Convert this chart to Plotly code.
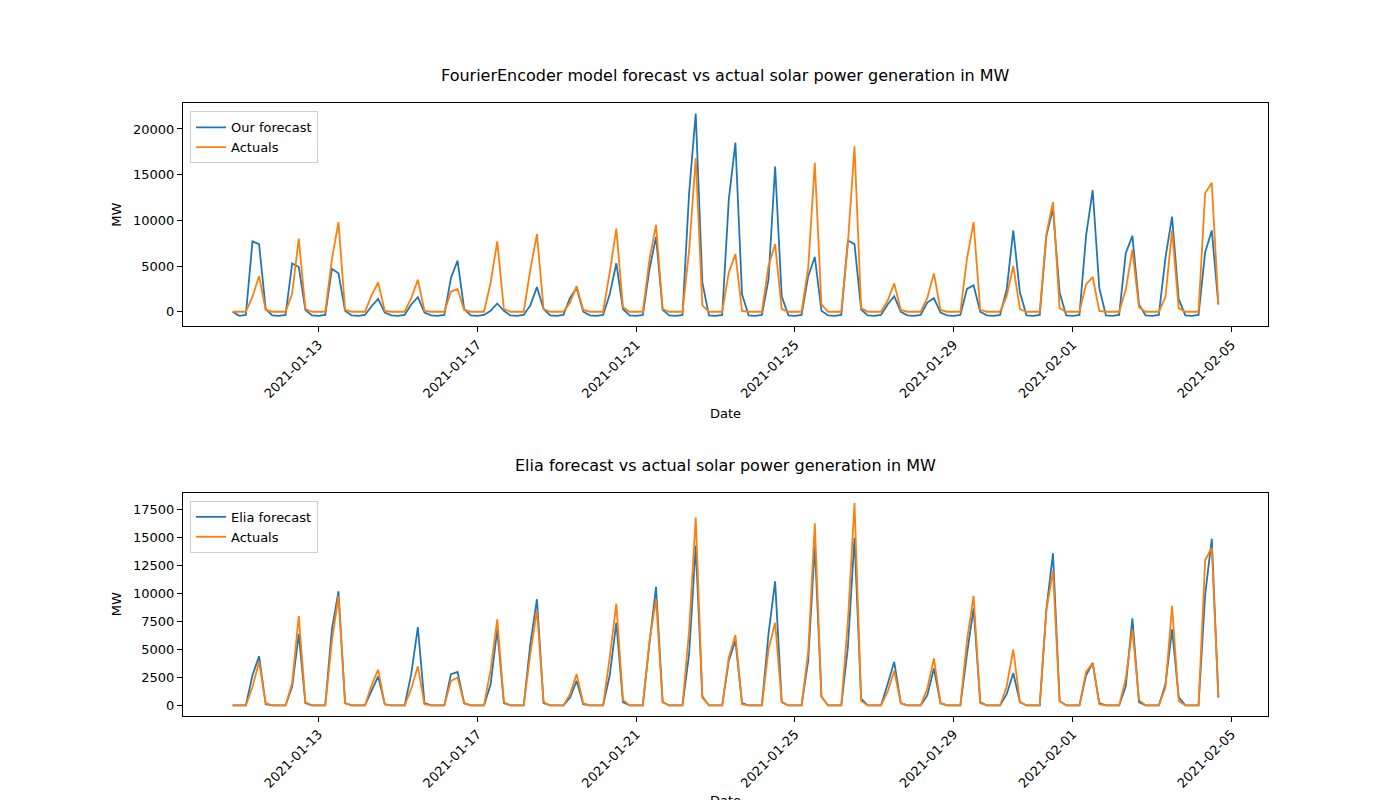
import pandas as pd
import plotly.graph_objects as go

days = pd.date_range("2021-01-11", "2021-02-04", freq="D")
start_time = pd.Timestamp("2021-01-10 20:00")
start_vals = {"ours": 0, "act": 0, "elia": 0}

# values per day at 00, 04, 08, 12, 16, 20 h (Jan 11 .. Feb 4)
ours_00 = [-450]*25
ours_04 = [-350]*25
ours_08 = [7700, 5300, 4700, 600, 800, 3700, 100, 700, 1500, 1900, 4600, 13000, 12300, 3500, 3900, 7800, 800, 1000, 2500, 2400, 8300, 8300, 6400, 5900, 6500]
ours_12 = [7400, 4900, 4200, 1400, 1600, 5600, 900, 2700, 2600, 5300, 8200, 21700, 18500, 15900, 6000, 7400, 1700, 1500, 2900, 8900, 11300, 13300, 8300, 10400, 8900]
ours_16 = [300, 200, 100, -100, -100, 300, 100, 300, 0, 300, 200, 3200, 1900, 1700, 100, 250, 0, -100, 0, 2100, 2100, 2600, 800, 1400, 800]
ours_20 = [-400]*25

act_08 = [1650, 2000, 5700, 1800, 1500, 2200, 3200, 4600, 1000, 4300, 5700, 6700, 4300, 5000, 4800, 7500, 1200, 1500, 5800, 1700, 8500, 3000, 2400, 1600, 13000]
act_12 = [3900, 8000, 9800, 3200, 3500, 2500, 7700, 8500, 2800, 9100, 9500, 16800, 6300, 7400, 16300, 18100, 3100, 4200, 9800, 5000, 12000, 3800, 6800, 8900, 14100]
act_16 = [200, 300, 200, 100, 100, 200, 300, 300, 200, 500, 300, 700, 100, 300, 800, 400, 200, 200, 200, 300, 400, 100, 500, 400, 800]

elia_08 = [2700, 1700, 6800, 1300, 2800, 2800, 1900, 5500, 700, 2700, 5500, 4600, 4000, 6400, 4000, 5200, 1900, 900, 4600, 1000, 8600, 2700, 1700, 1900, 9900]
elia_12 = [4400, 6400, 10200, 2600, 7000, 3000, 6800, 9500, 2200, 7400, 10600, 14300, 5800, 11100, 14300, 15000, 3900, 3300, 8700, 2900, 13600, 3800, 7800, 6800, 14900]
elia_16 = [100, 200, 200, 100, 200, 200, 200, 200, 100, 300, 300, 800, 200, 300, 800, 600, 200, 200, 300, 300, 400, 200, 300, 740, 700]

tick_dates = ["2021-01-13", "2021-01-17", "2021-01-21", "2021-01-25", "2021-01-29", "2021-02-01", "2021-02-05"]


def build(v00, v04, v08, v12, v16, v20, first):
    t, y = [start_time], [first]
    for i, d in enumerate(days):
        slots = [v00[i], v04[i], v08[i], v12[i], v16[i], v20[i]]
        for h, v in zip([0, 4, 8, 12, 16, 20], slots):
            ts = d + pd.Timedelta(hours=h)
            if ts > pd.Timestamp("2021-02-04 16:00"):
                continue
            t.append(ts)
            y.append(v)
    return t, y


zeros = [0]*25
t, ours = build(ours_00, ours_04, ours_08, ours_12, ours_16, ours_20, start_vals["ours"])
_, act = build(zeros, zeros, act_08, act_12, act_16, zeros, start_vals["act"])
_, elia = build(zeros, zeros, elia_08, elia_12, elia_16, zeros, start_vals["elia"])

BLUE = "#1f77b4"
ORANGE = "#ff7f0e"
FONT = "DejaVu Sans"
LW = 1.8

fig = go.Figure()
fig.add_trace(go.Scatter(x=t, y=ours, mode="lines", name="Our forecast", line=dict(color=BLUE, width=LW), xaxis="x", yaxis="y"))
fig.add_trace(go.Scatter(x=t, y=act, mode="lines", name="Actuals", line=dict(color=ORANGE, width=LW), xaxis="x", yaxis="y"))
fig.add_trace(go.Scatter(x=t, y=elia, mode="lines", name="Elia forecast", line=dict(color=BLUE, width=LW), xaxis="x2", yaxis="y2", legend="legend2"))
fig.add_trace(go.Scatter(x=t, y=act, mode="lines", name="Actuals", line=dict(color=ORANGE, width=LW), xaxis="x2", yaxis="y2", legend="legend2"))

xr = ["2021-01-09 14:00", "2021-02-05 22:00"]
common_x = dict(range=xr, tickvals=tick_dates, ticktext=tick_dates, tickangle=-45,
                showgrid=False, zeroline=False, showline=True, linecolor="black", mirror=True,
                ticks="outside", ticklen=5, tickcolor="black", tickfont=dict(size=13, color="black"))
common_y = dict(showgrid=False, zeroline=False, showline=True, linecolor="black", mirror=True,
                ticks="outside", ticklen=5, tickcolor="black", tickformat="d",
                tickfont=dict(size=13, color="black"))

leg = dict(bgcolor="rgba(255,255,255,0.8)", bordercolor="#cccccc", borderwidth=1,
           font=dict(size=13, color="black"), xanchor="left", yanchor="top")

fig.update_layout(
    width=1400, height=800, plot_bgcolor="white", paper_bgcolor="white",
    font=dict(family=FONT, color="black"),
    margin=dict(l=0, r=0, t=0, b=0),
    xaxis=dict(domain=[0.125, 0.9], anchor="y", title=dict(text="Date", font=dict(size=13), standoff=8), **common_x),
    yaxis=dict(domain=[0.6, 0.88], anchor="x", range=[-1560, 22800], tickvals=[0, 5000, 10000, 15000, 20000],
               title=dict(text="MW", font=dict(size=13), standoff=8), **common_y),
    xaxis2=dict(domain=[0.125, 0.9], anchor="y2", title=dict(text="Date", font=dict(size=13), standoff=8), **common_x),
    yaxis2=dict(domain=[0.11, 0.39], anchor="x2", range=[-905, 19005], tickvals=list(range(0, 17501, 2500)),
                title=dict(text="MW", font=dict(size=13), standoff=8), **common_y),
    legend=dict(x=0.13, y=0.87, **leg),
    legend2=dict(x=0.13, y=0.38, **leg),
    showlegend=True,
    annotations=[
        dict(text="FourierEncoder model forecast vs actual solar power generation in MW", x=0.5125, y=0.9, xref="paper", yref="paper",
             xanchor="center", yanchor="bottom", showarrow=False, font=dict(size=16, color="black")),
        dict(text="Elia forecast vs actual solar power generation in MW", x=0.5125, y=0.41, xref="paper", yref="paper",
             xanchor="center", yanchor="bottom", showarrow=False, font=dict(size=16, color="black")),
    ],
)

fig.write_html("out.html")
